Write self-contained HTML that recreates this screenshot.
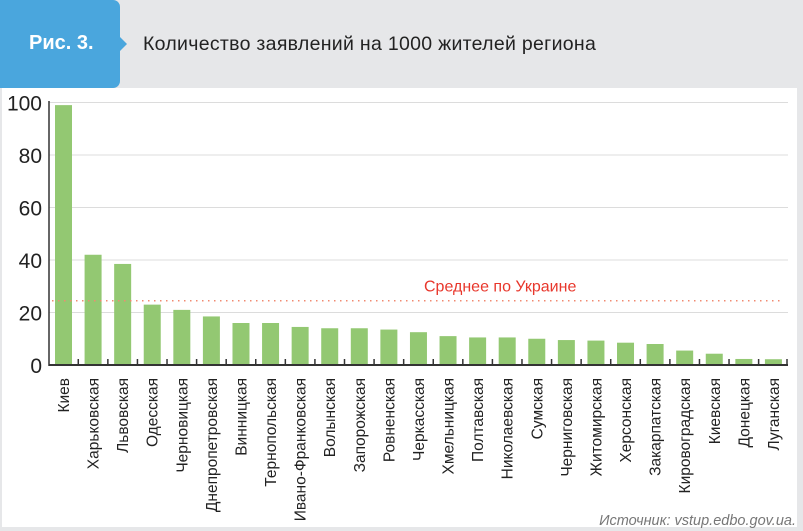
<!DOCTYPE html>
<html><head><meta charset="utf-8"><style>
body{margin:0;width:803px;height:531px;background:#e6e7e9;font-family:"Liberation Sans",sans-serif;position:relative;overflow:hidden}
#tab{position:absolute;left:0;top:0;width:120px;height:88px;background:#4aa6dd;border-radius:0 7px 7px 0}
#tab span{position:absolute;left:29px;top:32px;color:#fff;font-weight:bold;font-size:20px}
#arrow{position:absolute;left:120px;top:37px;width:0;height:0;border-top:7px solid transparent;border-bottom:7px solid transparent;border-left:7px solid #4aa6dd}
#title{position:absolute;left:143px;top:33px;font-size:19.5px;letter-spacing:0.3px;color:#222}
#panel{position:absolute;left:2px;top:88px;width:795px;height:439px;background:#fff}
svg{position:absolute;left:0;top:0}
</style></head><body>
<div id="tab"><span>Рис. 3.</span></div>
<div id="arrow"></div>
<div id="title">Количество заявлений на 1000 жителей региона</div>
<div id="panel"></div>
<svg id="chart" width="803" height="531"></svg>
<script>
const categories=["Киев","Харьковская","Львовская","Одесская","Черновицкая","Днепропетровская","Винницкая","Тернопольская","Ивано-Франковская","Волынская","Запорожская","Ровненская","Черкасская","Хмельницкая","Полтавская","Николаевская","Сумская","Черниговская","Житомирская","Херсонская","Закарпатская","Кировоградская","Киевская","Донецкая","Луганская"];
const values=[99,42,38.5,23,21,18.5,16,16,14.5,14,14,13.5,12.5,11,10.5,10.5,10,9.5,9.3,8.5,8,5.5,4.3,2.3,2.2];
const yTicks=[0,20,40,60,80,100];
const average=[24.5];
const NS="http://www.w3.org/2000/svg";
const svg=document.getElementById('chart');
const x0=49,x1=788,y0=365,yTop=102.5,step=29.58,bw=17,firstX=55;
function y(v){return y0-(v/100)*(y0-yTop);}
function xb(i){return firstX+i*step;}
function mk(t,a,txt){const e=document.createElementNS(NS,t);for(const k in a)e.setAttribute(k,a[k]);if(txt!=null)e.textContent=txt;svg.appendChild(e);return e;}
yTicks.forEach(t=>{
  if(t>0){const g=mk('line',{x1:x0,x2:x1,y1:y(t),y2:y(t),stroke:'#dcdcdc','stroke-width':1});
  
  }
  const l=mk('text',{x:42,y:y(t)+8,'text-anchor':'end','font-size':21,fill:'#222'},t);
  
  
});
values.forEach((v,i)=>{
  const r=mk('rect',{x:xb(i),y:y(v),width:bw,height:y0-y(v),fill:'#93c872'});
  
  
  const cx=xb(i)+bw/2+5.5;
  const l=mk('text',{x:0,y:0,'text-anchor':'end','font-size':15.5,fill:'#222',transform:`translate(${cx},378) rotate(-90)`},categories[i]);
  
  
  if(i>0){const tk=mk('line',{x1:xb(i)-6.3,x2:xb(i)-6.3,y1:y0,y2:y0-6,stroke:'#333','stroke-width':1.5});
  
  }
});
const tkEnd=mk('line',{x1:x1-1,x2:x1-1,y1:y0,y2:y0-6,stroke:'#333','stroke-width':1.5});


const av=mk('line',{x1:52,x2:784,y1:y(average[0]),y2:y(average[0]),stroke:'#f08a70','stroke-width':1.5,'stroke-dasharray':'1.5 4.5'});


const avl=mk('text',{x:424,y:y(average[0])-9,'font-size':16,fill:'#e8372c'},'Среднее по Украине');


const ya=mk('line',{x1:x0,x2:x0,y1:101,y2:y0+1,stroke:'#333','stroke-width':1.5});


const xa=mk('line',{x1:x0,x2:x1,y1:y0,y2:y0,stroke:'#333','stroke-width':2});


const src=mk('text',{x:796,y:525,'text-anchor':'end','font-size':14.5,'font-style':'italic',fill:'#777'},'Источник: vstup.edbo.gov.ua.');


</script>
</body></html>
